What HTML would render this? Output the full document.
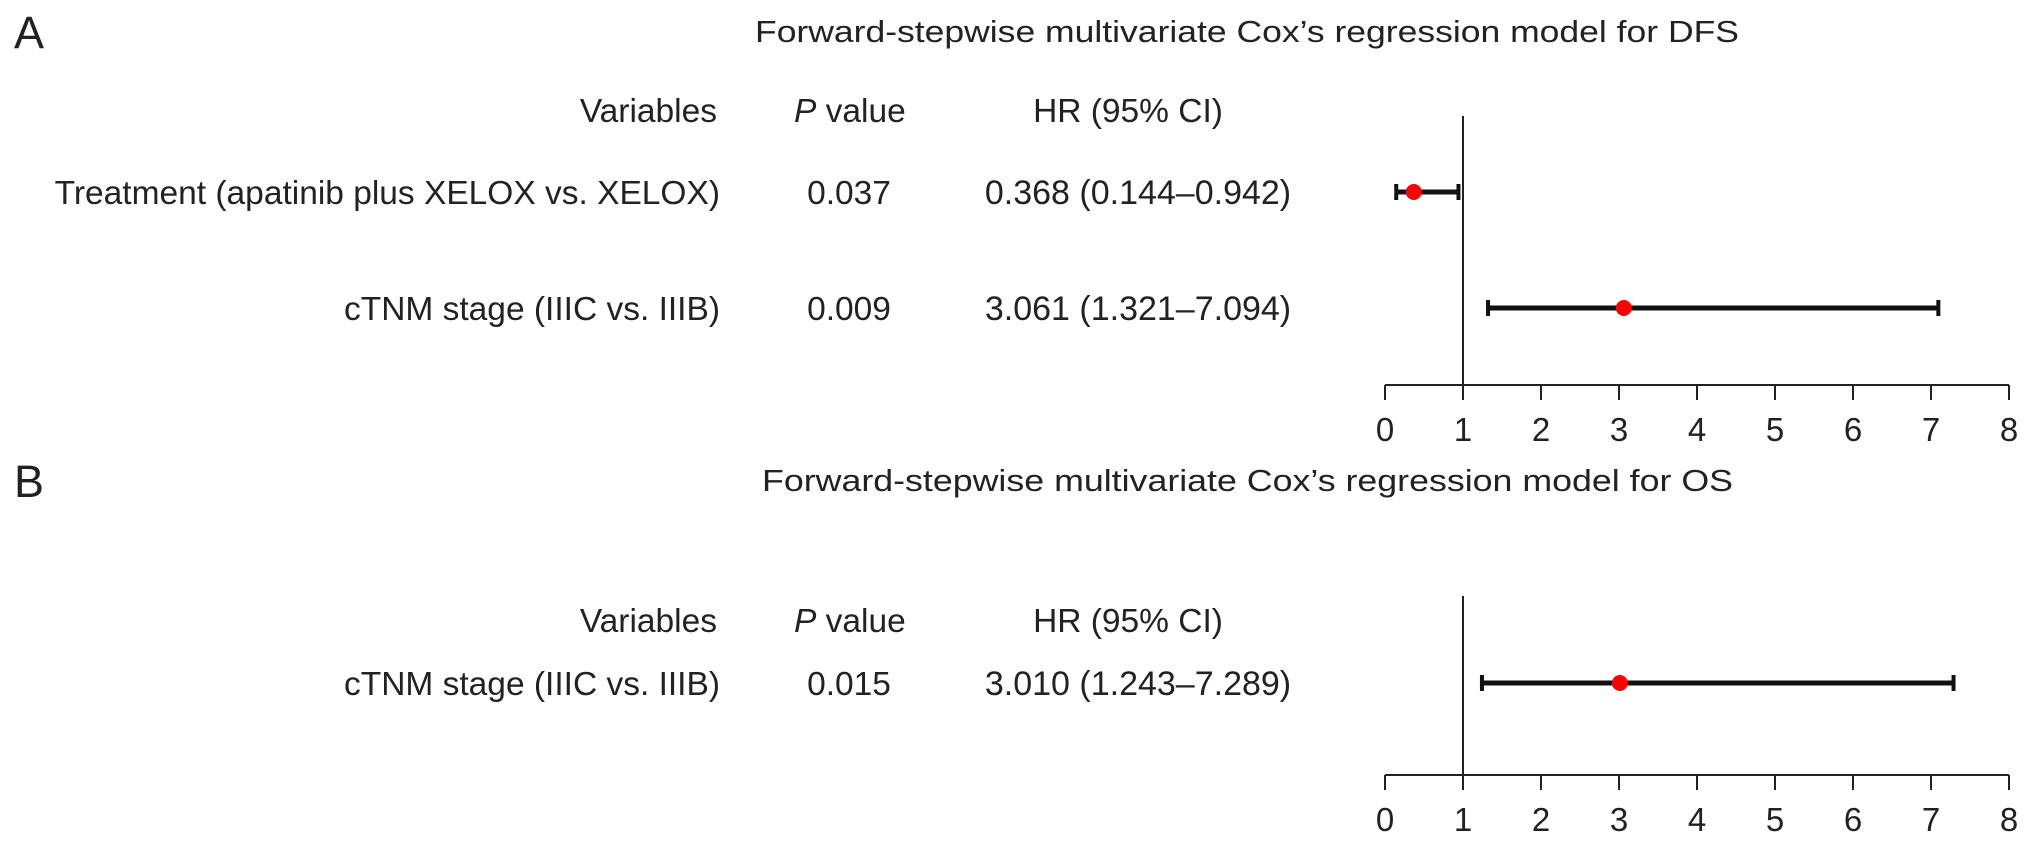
<!DOCTYPE html>
<html><head><meta charset="utf-8"><style>
html,body{margin:0;padding:0;background:#fff;}
svg{display:block;}
text{font-family:"Liberation Sans",Arial,sans-serif;fill:#222;}
</style></head><body>
<svg id="c" width="2032" height="843" viewBox="0 0 2032 843" xmlns="http://www.w3.org/2000/svg">
<text x="14" y="48" font-size="45">A</text>
<text x="755" y="42" font-size="31" textLength="984" lengthAdjust="spacingAndGlyphs">Forward-stepwise multivariate Cox’s regression model for DFS</text>
<text x="717" y="122" font-size="33.5" text-anchor="end">Variables</text>
<text x="794" y="122" font-size="33.5"><tspan font-style="italic">P</tspan> value</text>
<text x="1128" y="122" font-size="33.5" text-anchor="middle">HR (95% CI)</text>
<text x="14" y="497" font-size="45">B</text>
<text x="762" y="491" font-size="31" textLength="971" lengthAdjust="spacingAndGlyphs">Forward-stepwise multivariate Cox’s regression model for OS</text>
<text x="717" y="632" font-size="33.5" text-anchor="end">Variables</text>
<text x="794" y="632" font-size="33.5"><tspan font-style="italic">P</tspan> value</text>
<text x="1128" y="632" font-size="33.5" text-anchor="middle">HR (95% CI)</text>
<g id="plot"></g>
</svg>
<script>
const variablesA = ["Treatment (apatinib plus XELOX vs. XELOX)", "cTNM stage (IIIC vs. IIIB)"];
const pValuesA = ["0.037", "0.009"];
const hrA = [0.368, 3.061];
const lowA = [0.144, 1.321];
const highA = [0.942, 7.094];
const variablesB = ["cTNM stage (IIIC vs. IIIB)"];
const pValuesB = ["0.015"];
const hrB = [3.010];
const lowB = [1.243];
const highB = [7.289];
const ticks = [0, 1, 2, 3, 4, 5, 6, 7, 8];

const NS = "http://www.w3.org/2000/svg";
const g = document.getElementById("plot");
const X0 = 1385, X1 = 2009, DMIN = 0, DMAX = 8;
function xs(v){ return X0 + (v - DMIN) / (DMAX - DMIN) * (X1 - X0); }
function mk(tag, attrs){ const e = document.createElementNS(NS, tag); for (const k in attrs) e.setAttribute(k, attrs[k]); g.appendChild(e); return e; }
function fmt(v){ return v.toFixed(3); }

function panel(vars, ps, hr, lo, hi, rowYs, axisY, refTop, key){
  vars.forEach((v, i) => {
    const y = rowYs[i];
    const t1 = mk("text", {x: 720, y: y + 12, "font-size": 33.5, "text-anchor": "end"});
    t1.textContent = v;
    
    
    const t2 = mk("text", {x: 849, y: y + 12, "font-size": 33.5, "text-anchor": "middle"});
    t2.textContent = ps[i];
    
    
    const t3 = mk("text", {x: 1138, y: y + 12, "font-size": 34, "text-anchor": "middle"});
    t3.textContent = fmt(hr[i]) + " (" + fmt(lo[i]) + "–" + fmt(hi[i]) + ")";
    
    
    const ln = mk("line", {x1: xs(lo[i]), x2: xs(hi[i]), y1: y, y2: y, stroke: "#111", "stroke-width": 5});
    
    
    [lo[i], hi[i]].forEach((c, j) => {
      const cap = mk("line", {x1: xs(c), x2: xs(c), y1: y - 8, y2: y + 8, stroke: "#111", "stroke-width": 4});
      
      
    });
    const pt = mk("circle", {cx: xs(hr[i]), cy: y, r: 8, fill: "#f00"});
    
    
  });
  const ref = mk("line", {x1: xs(1), x2: xs(1), y1: refTop, y2: axisY, stroke: "#222", "stroke-width": 2});
  
  
  const ax = mk("line", {x1: xs(DMIN), x2: xs(DMAX), y1: axisY, y2: axisY, stroke: "#222", "stroke-width": 2});
  
  
  ticks.forEach(t => {
    const tk = mk("line", {x1: xs(t), x2: xs(t), y1: axisY, y2: axisY + 15, stroke: "#222", "stroke-width": 2});
    
    
    const tl = mk("text", {x: xs(t), y: axisY + 56, "font-size": 33, "text-anchor": "middle"});
    tl.textContent = String(t);
    
    
  });
}
panel(variablesA, pValuesA, hrA, lowA, highA, [192, 308], 385, 116, "a");
panel(variablesB, pValuesB, hrB, lowB, highB, [683], 775, 596, "b");
</script>
</body></html>
